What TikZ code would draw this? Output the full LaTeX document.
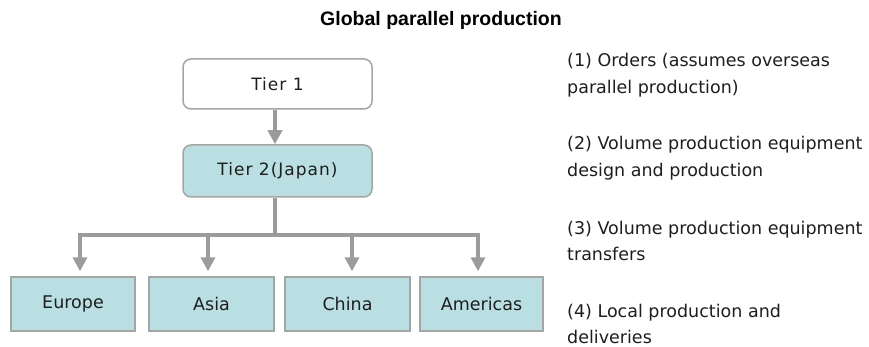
\documentclass[tikz,border=0pt]{standalone}
\usepackage{fontspec}
\usepackage{tikz}
\usetikzlibrary{arrows.meta}
\setmainfont{DejaVu Sans}
\newfontfamily\titlefont{Liberation Sans}
\newfontfamily\tierfont[LetterSpace=6]{DejaVu Sans}
\definecolor{boxfill}{RGB}{186, 223, 226}
\definecolor{boxline}{RGB}{165, 165, 165}
\definecolor{linkgray}{RGB}{155, 155, 155}
\definecolor{textink}{RGB}{30, 30, 30}
\tikzset{
  tierbox/.style={draw=boxline, line width=1.5pt, rounded corners=8pt,
    minimum width=189pt, minimum height=50pt, inner sep=0pt,
    font=\tierfont\fontsize{17}{20}\selectfont, text=textink},
  regionbox/.style={draw=boxline, line width=1.5pt, fill=boxfill,
    minimum height=54pt, inner sep=0pt, text=textink},
  link/.style={draw=linkgray, line width=4pt},
  linkarrow/.style={link, -{Triangle[length=14pt, width=14pt]}},
  item/.style={anchor=west, align=left, inner sep=0pt, text=textink,
    font=\fontsize{17.5}{26.5}\selectfont}
}

\begin{document}
\begin{tikzpicture}[x=1pt, y=-1pt, font=\fontsize{17.5}{20}\selectfont]
  \useasboundingbox (0,0) rectangle (869,347);
  \node[font=\titlefont\bfseries\fontsize{19.5}{22}\selectfont] (title) at (441,20) {Global parallel production};

  % company tiers
  \node[tierbox, fill=white] (tier1) at (277.5,84) {Tier 1};
  \node[tierbox, fill=boxfill, minimum height=52pt] (tier2) at (277.5,171) {Tier 2(Japan)};

  % overseas sites
  \node[regionbox, minimum width=124pt] (europe) at (73,304) {Europe};
  \node[regionbox, minimum width=125pt] (asia) at (211.5,304) {Asia};
  \node[regionbox, minimum width=125pt] (china) at (347.5,304) {China};
  \node[regionbox, minimum width=123pt] (americas) at (481.5,304) {Americas};

  \coordinate (split) at (275,235);
  \draw[linkarrow] (tier1.south -| split) -- (tier2.north -| split);
  \draw[link] (tier2.south -| split) -- (split);
  \draw[linkarrow, shorten >=5pt] (split) -| ([xshift=7pt]europe.north);
  \draw[linkarrow, shorten >=5pt] (split) -| ([xshift=-3.5pt]asia.north);
  \draw[linkarrow, shorten >=5pt] (split) -| ([xshift=4.5pt]china.north);
  \draw[linkarrow, shorten >=5pt] (split) -| ([xshift=-3.5pt]americas.north);

  % steps
  \node[item] (item1) at (567,75) {(1) Orders (assumes overseas\\parallel production)};
  \node[item] (item2) at (567,158) {(2) Volume production equipment\\design and production};
  \node[item] (item3) at (567,241) {(3) Volume production equipment\\transfers};
  \node[item] (item4) at (567,324) {(4) Local production and\\deliveries};
\end{tikzpicture}
\end{document}
